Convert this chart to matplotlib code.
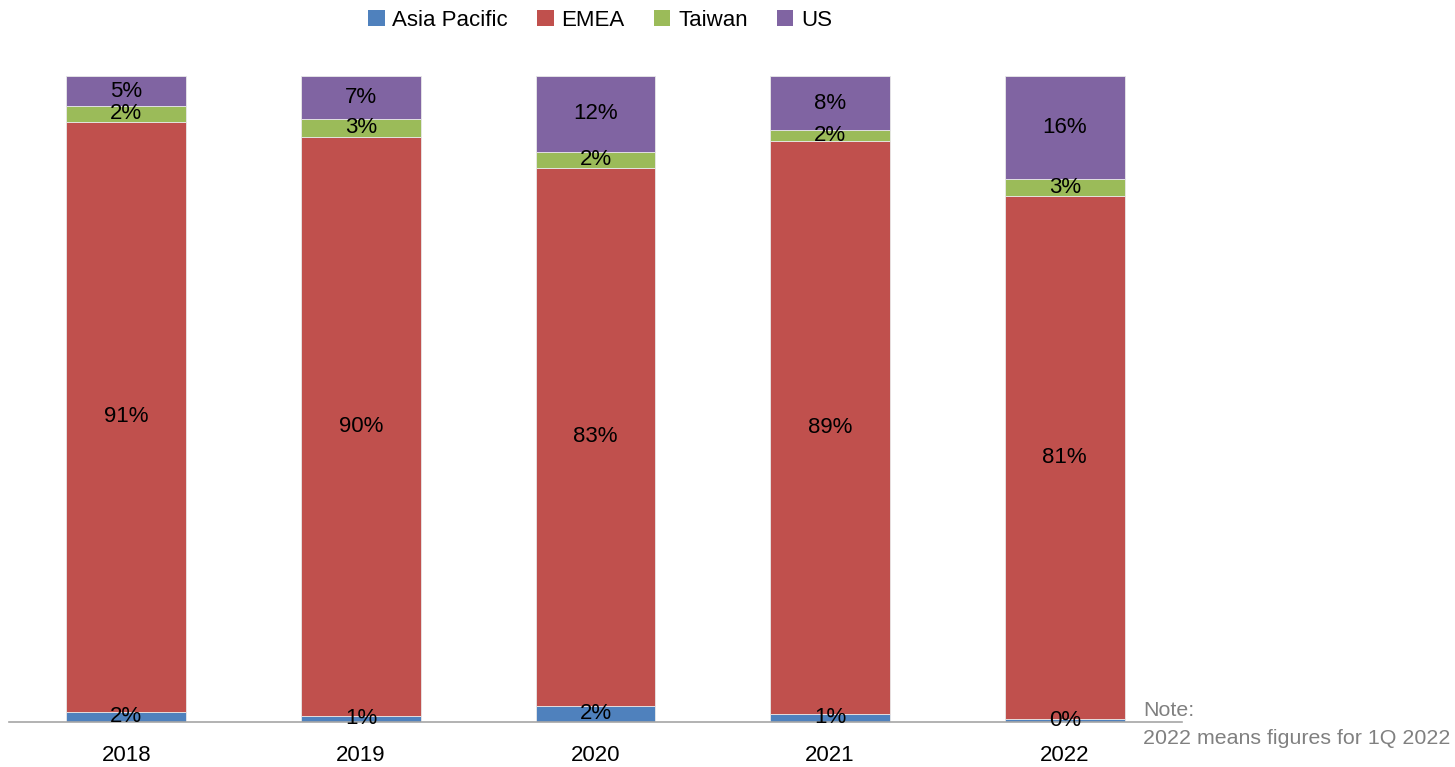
import matplotlib
matplotlib.use("Agg")
import matplotlib.pyplot as plt
from matplotlib.patches import Patch
import numpy as np

years = ["2018", "2019", "2020", "2021", "2022"]
asia_pacific = [1.55, 0.88, 2.43, 1.19, 0.37]
emea = [91.38, 89.72, 83.37, 88.75, 81.09]
taiwan = [2.38, 2.74, 2.43, 1.66, 2.59]
us = [4.69, 6.66, 11.77, 8.40, 15.95]

series = [("Asia Pacific", asia_pacific, "#4F81BD"),
          ("EMEA", emea, "#C0504D"),
          ("Taiwan", taiwan, "#9BBB59"),
          ("US", us, "#8064A2")]

plt.rcParams['font.family'] = ['Liberation Sans', 'DejaVu Sans']

W, H = 1455, 767
fig = plt.figure(figsize=(W / 100, H / 100), dpi=100)
ax = fig.add_axes([9 / W, (H - 721.7) / H, (1182 - 9) / W, (721.7 - 76) / H])

x = np.arange(len(years))
bottom = np.zeros(len(years))
for name, vals, color in series:
    vals = np.array(vals)
    ax.bar(x, vals, bottom=bottom, width=0.51, color=color,
           edgecolor="#E8E8E8", linewidth=0.6, label=name)
    for xi, b, v in zip(x, bottom, vals):
        ax.text(xi, b + v / 2, f"{round(v):.0f}%", ha="center", va="center",
                fontsize=16, color="black")
    bottom += vals

ax.set_xlim(-0.5, len(years) - 0.5)
ax.set_ylim(0, 100)
ax.set_yticks([])
ax.set_xticks(x)
ax.set_xticklabels(years, fontsize=16)
ax.tick_params(axis="x", length=0, pad=17)
for s in ["top", "right", "left"]:
    ax.spines[s].set_visible(False)
ax.spines["bottom"].set_color("#A6A6A6")
ax.spines["bottom"].set_linewidth(1.2)

handles = [Patch(facecolor=c, edgecolor="none", label=n) for n, _, c in series]
fig.legend(handles=handles, loc="center", bbox_to_anchor=(600 / W, 1 - 20 / H),
           ncol=4, frameon=False, fontsize=16, handlelength=0.75, handleheight=0.75,
           handletextpad=0.35, columnspacing=1.3)

fig.text(1143 / W, 1 - 710 / H, "Note:", fontsize=15.4, color="#808080",
         ha="left", va="center")
fig.text(1143 / W, 1 - 738 / H, "2022 means figures for 1Q 2022", fontsize=15.4,
         color="#808080", ha="left", va="center")

fig.savefig("out.png", dpi=100)
